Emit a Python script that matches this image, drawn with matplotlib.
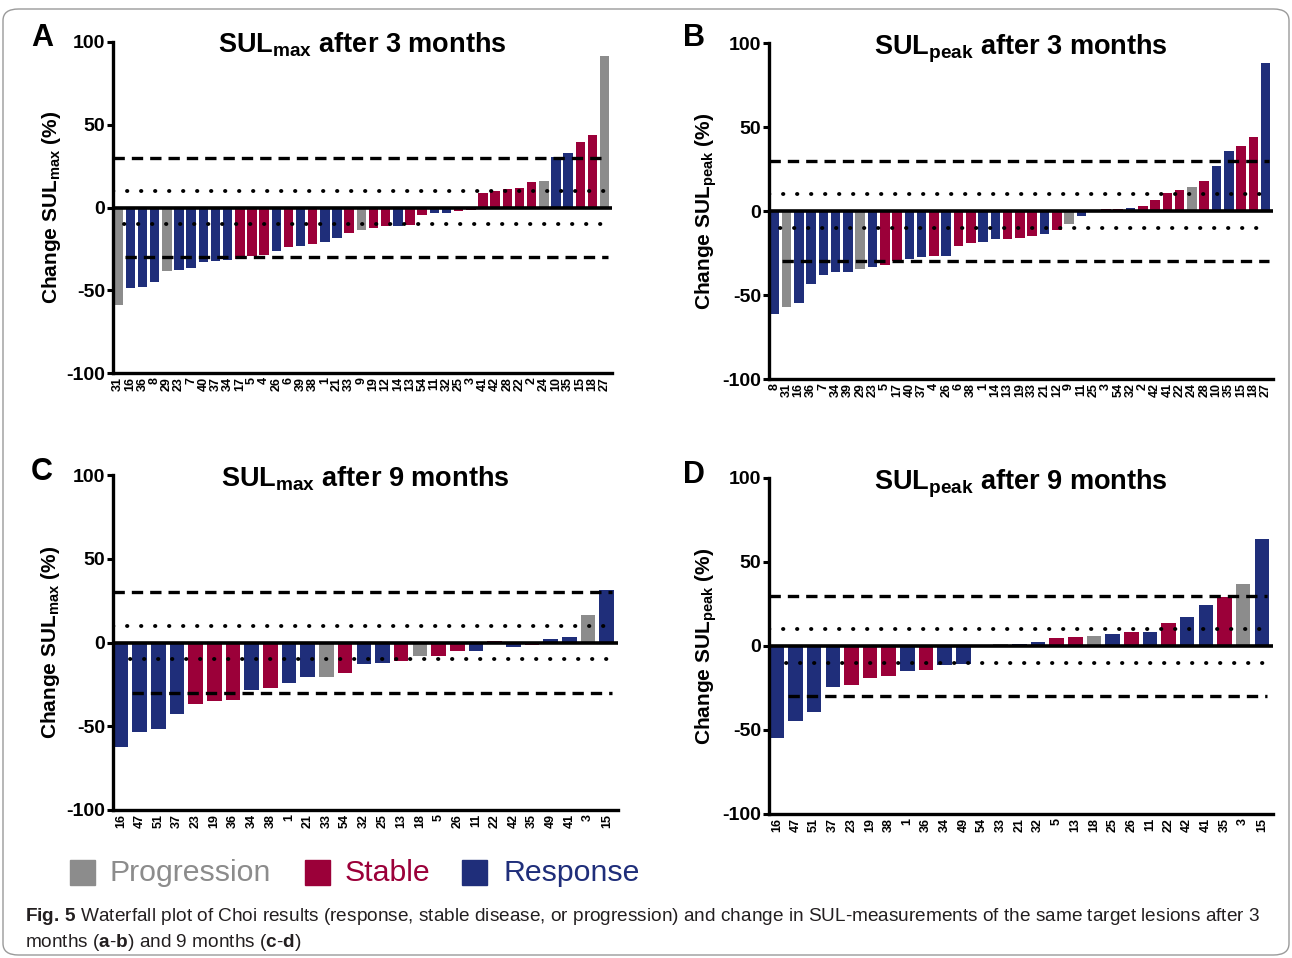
import matplotlib
matplotlib.use('Agg')
import matplotlib.pyplot as plt
from matplotlib.patches import FancyBboxPatch, Rectangle

plt.rcParams['font.family'] = ['Liberation Sans', 'DejaVu Sans']
plt.rcParams['mathtext.fontset'] = 'custom'
plt.rcParams['mathtext.rm'] = 'Liberation Sans'
plt.rcParams['mathtext.it'] = 'Liberation Sans:italic'
plt.rcParams['mathtext.bf'] = 'Liberation Sans:bold'
plt.rcParams['axes.unicode_minus'] = False

GREY = '#8c8c8c'
RED = '#9b0039'
BLUE = '#1f2e7a'
COLOURS = {'P': GREY, 'S': RED, 'R': BLUE}

# Choi category per bar: P = progression, S = stable, R = response
a_lesions = ['31', '16', '36', '8', '29', '23', '7', '40', '37', '34',
             '17', '5', '4', '26', '6', '39', '38', '1', '21', '33',
             '9', '19', '12', '14', '13', '54', '11', '32', '25', '3',
             '41', '42', '28', '22', '2', '24', '10', '35', '15', '18', '27']
a_change = [-58.9, -48.4, -48.2, -45.2, -38.3, -37.9, -36.3, -33.1, -32.5, -31.7,
            -31.3, -29.4, -29.0, -26.4, -23.6, -23.4, -21.8, -21.0, -18.5, -15.5,
            -13.5, -12.5, -11.3, -11.1, -10.7, -4.4, -3.4, -3.2, -2.0, -1.5,
            8.5, 10.1, 11.3, 11.9, 15.3, 16.3, 30.6, 32.9, 39.7, 43.8, 91.7]
a_choi = 'PRRRPRRRRRSSSRSRSRRSPSSRSSRRSSSSSSSPRRSSP'

b_lesions = ['8', '31', '16', '36', '7', '34', '39', '29', '23', '5',
             '17', '40', '37', '4', '26', '6', '38', '1', '14', '13',
             '19', '33', '21', '12', '9', '11', '25', '3', '54', '32',
             '2', '42', '41', '22', '24', '28', '10', '35', '15', '18', '27']
b_change = [-61.4, -57.0, -54.5, -43.6, -38.2, -36.4, -36.2, -34.3, -33.5, -32.3,
            -29.5, -28.3, -27.5, -27.0, -26.9, -21.0, -19.2, -18.6, -16.8, -16.6,
            -16.2, -15.0, -13.7, -11.1, -7.5, -2.8, 0.8, 1.0, 1.2, 1.8,
            3.2, 6.7, 10.7, 12.3, 14.1, 17.6, 26.5, 36.0, 38.4, 44.0, 88.1]
b_choi = 'RPRRRRRPRSSRRSRSSRRSSSRSPRSSSRSSSSPSRRSSR'

c_lesions = ['16', '47', '51', '37', '23', '19', '36', '34', '38', '1',
             '21', '33', '54', '32', '25', '13', '18', '5', '26', '11',
             '22', '42', '35', '49', '41', '3', '15']
c_change = [-62.4, -53.2, -51.4, -42.8, -36.5, -35.1, -34.5, -28.5, -27.3, -24.3,
            -20.5, -20.3, -18.5, -12.9, -12.5, -11.1, -8.3, -8.1, -5.3, -5.2,
            0.6, -2.4, -1.6, 2.0, 3.4, 16.6, 31.4]
c_choi = 'RRRRSSSRSRRPSRRSPSSRSRSRRPR'

d_lesions = ['16', '47', '51', '37', '23', '19', '38', '1', '36', '34',
             '49', '54', '33', '21', '32', '5', '13', '18', '25', '26',
             '11', '22', '42', '41', '35', '3', '15']
d_change = [-55.0, -44.6, -39.2, -24.6, -23.4, -19.0, -17.8, -15.0, -14.0, -11.2,
            -11.0, 0.8, 1.2, 1.4, 2.4, 4.8, 5.4, 6.0, 7.2, 8.2,
            8.6, 13.8, 17.4, 24.6, 29.2, 37.2, 63.4]
d_choi = 'RRRRSSSRSRRSPRRSSPRSRSRRSPR'

panels = [
    ('A', 'max', '3', a_lesions, a_change, a_choi),
    ('B', 'peak', '3', b_lesions, b_change, b_choi),
    ('C', 'max', '9', c_lesions, c_change, c_choi),
    ('D', 'peak', '9', d_lesions, d_change, d_choi),
]

W, H = 1292, 958
fig = plt.figure(figsize=(W / 100, H / 100), dpi=100)

# axes boxes in pixels: left, top, right, bottom
boxes = [(113, 42, 612, 373), (769, 43, 1273, 379),
         (113, 475, 618, 810), (769, 478, 1273, 814)]
letter_pos = [(42, 38), (694, 38), (42, 472), (694, 475)]


def draw_panel(ax, sub, months, lesions, change, choi):
    n = len(change)
    x = list(range(n))
    ax.bar(x, change, width=0.78, color=[COLOURS[c] for c in choi],
           zorder=2, linewidth=0)
    ax.set_xlim(-0.42, n - 1 + 0.6)
    ax.set_ylim(-100, 100)
    ax.set_yticks([-100, -50, 0, 50, 100])
    ax.set_yticklabels(['-100', '-50', '0', '50', '100'],
                       fontsize=14, fontweight='bold')
    ax.set_xticks(x)
    ax.set_xticklabels(lesions, rotation=90, fontsize=9, fontweight='bold')
    ax.tick_params(axis='y', length=4, width=2.2, pad=1.5)
    ax.tick_params(axis='x', length=0, pad=3)
    for side in ('top', 'right'):
        ax.spines[side].set_visible(False)
    for side in ('left', 'bottom'):
        ax.spines[side].set_linewidth(2.4)

    ax.axhline(0, color='black', lw=2.6, zorder=4)
    end = n - 1 + 0.3
    dash = (0, (3.4, 2.1))
    dot = (0, (0.1, 3.5))
    ax.plot([-0.42, end], [30, 30], color='black', lw=2.4, ls=dash, zorder=3)
    ax.plot([0.6, end], [-30, -30], color='black', lw=2.4, ls=dash, zorder=3)
    ax.plot([-0.42, end], [10, 10], color='black', lw=2.8, ls=dot,
            dash_capstyle='round', zorder=3)
    ax.plot([0.5, end], [-10, -10], color='black', lw=2.8, ls=dot,
            dash_capstyle='round', zorder=3)

    ax.text(0.5, 0.967, r'$\mathbf{SUL_{%s}}$ after %s months' % (sub, months),
            transform=ax.transAxes, ha='center', va='baseline',
            fontsize=19.5, fontweight='bold')
    ax.set_ylabel(r'Change $\mathbf{SUL_{%s}}$ (%%)' % sub,
                  fontsize=15, fontweight='bold')
    ax.yaxis.set_label_coords(-0.1, 0.5)


for (letter, sub, months, lesions, change, choi), box, lp in zip(
        panels, boxes, letter_pos):
    l, t, r, b = box
    ax = fig.add_axes([l / W, 1 - b / H, (r - l) / W, (b - t) / H])
    draw_panel(ax, sub, months, lesions, change, choi)
    fig.text(lp[0] / W, 1 - lp[1] / H, letter, fontsize=22,
             fontweight='bold', ha='center', va='center')

# legend
legend_items = [('Progression', GREY, 70, 110),
                ('Stable', RED, 305, 345),
                ('Response', BLUE, 462, 503)]
for label, col, sx, tx in legend_items:
    fig.patches.append(Rectangle((sx / W, 1 - 885 / H), 25 / W, 25 / H,
                                 transform=fig.transFigure, color=col))
    fig.text(tx / W, 1 - 873 / H, label, fontsize=21.8, color=col,
             ha='left', va='center')

# caption
fig.text(25 / W, 1 - 921 / H,
         r'$\mathbf{Fig.\,5}$ Waterfall plot of Choi results (response, stable '
         r'disease, or progression) and change in SUL-measurements of the same '
         r'target lesions after 3',
         fontsize=13.7, color='#231f20', ha='left', va='baseline')
fig.text(25 / W, 1 - 947 / H,
         r'months ($\mathbf{a}$-$\mathbf{b}$) and 9 months ($\mathbf{c}$-$\mathbf{d}$)',
         fontsize=13.7, color='#231f20', ha='left', va='baseline')

frame = FancyBboxPatch((3 / W, 3 / H), 1 - 6 / W, 1 - 12 / H,
                       boxstyle='round,pad=0,rounding_size=0.012',
                       transform=fig.transFigure, fill=False,
                       edgecolor='#9a9a9a', linewidth=1.0)
fig.patches.append(frame)

fig.savefig('out.png', dpi=100)
